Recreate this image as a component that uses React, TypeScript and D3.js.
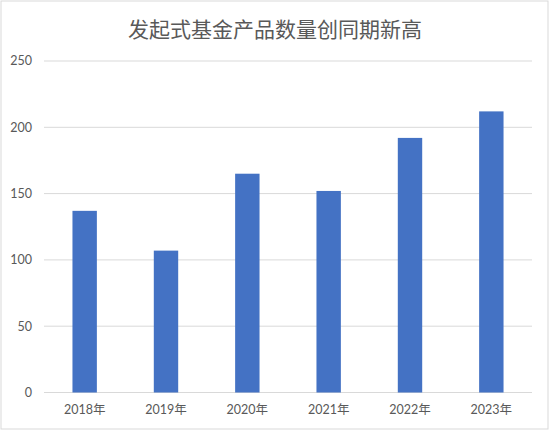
import React from "react";
import * as d3 from "d3";

const title = "发起式基金产品数量创同期新高";
const categories = ["2018年", "2019年", "2020年", "2021年", "2022年", "2023年"];
const values = [137, 107, 165, 152, 192, 212];
const yTicks = [0, 50, 100, 150, 200, 250];

const W = 550;
const H = 431;
const margin = { left: 44, right: 18, top: 61, bottom: 38.5 };

export default function App() {
  const x = d3
    .scaleBand<string>()
    .domain(categories)
    .range([margin.left, W - margin.right])
    .paddingInner(0)
    .paddingOuter(0);
  const y = d3.scaleLinear().domain([0, 250]).range([H - margin.bottom, margin.top]);
  const bw = x.bandwidth() * 0.3;
  const font = "Lato, 'Noto Sans CJK SC', sans-serif";
  return (
    <svg
      width={W}
      height={H}
      style={{ position: "fixed", left: 0, top: 0, display: "block", background: "#fff" }}
    >
      <rect x={1} y={1} width={W - 3} height={H - 3} fill="#fff" stroke="#d9d9d9" strokeWidth={1} />
      <text
        x={W / 2}
        y={37}
        textAnchor="middle"
        fontSize={21}
        fill="#595959"
        fontFamily="'Noto Sans CJK SC', sans-serif"
      >
        {title}
      </text>
      {yTicks.map((t) => (
        <g key={t}>
          <line
            x1={margin.left}
            x2={W - margin.right}
            y1={y(t)}
            y2={y(t)}
            stroke="#d9d9d9"
            strokeWidth={1}
          />
          <text
            x={32}
            y={y(t)}
            dy="0.35em"
            textAnchor="end"
            fontSize={12.5}
            fill="#595959"
            fontFamily={font}
          >
            {t}
          </text>
        </g>
      ))}
      {categories.map((c, i) => {
        const cx = (x(c) as number) + x.bandwidth() / 2;
        return (
          <g key={c}>
            <rect
              x={cx - bw / 2}
              y={y(values[i])}
              width={bw}
              height={y(0) - y(values[i])}
              fill="#4472C4"
            />
            <text
              x={cx}
              y={414}
              textAnchor="middle"
              fontSize={12.5}
              fill="#595959"
              fontFamily={font}
            >
              {c}
            </text>
          </g>
        );
      })}
    </svg>
  );
}
